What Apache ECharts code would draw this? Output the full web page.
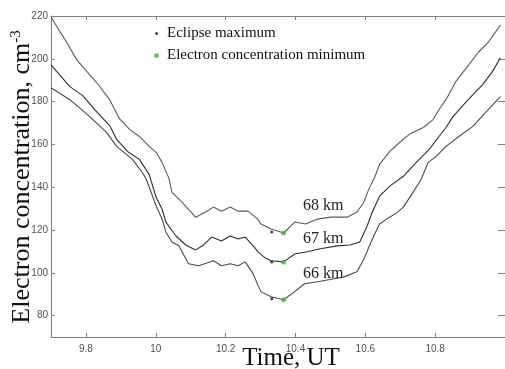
<!DOCTYPE html>
<html><head><meta charset="utf-8">
<script src="https://cdn.jsdelivr.net/npm/echarts@6/dist/echarts.min.js"></script>
<style>html,body{margin:0;padding:0;background:#fff;}#c{width:505px;height:369px;}</style>
</head><body><div id="c"></div>
<script>
const xTicks = [9.8, 10, 10.2, 10.4, 10.6, 10.8];
const yTicks = [80, 100, 120, 140, 160, 180, 200, 220];
const seriesNames = ['68 km', '67 km', '66 km'];
const legendNames = ['Eclipse maximum', 'Electron concentration minimum'];

const curve68 = [[9.700,219.5],[9.726,212.6],[9.746,207.4],[9.774,199.5],[9.803,194.0],[9.831,188.8],[9.868,180.9],[9.896,172.0],[9.925,167.0],[9.953,163.7],[9.981,159.1],[10.001,156.3],[10.018,151.6],[10.038,144.0],[10.046,137.7],[10.075,133.0],[10.114,126.0],[10.143,128.4],[10.165,130.7],[10.188,128.8],[10.213,130.7],[10.236,128.8],[10.264,128.8],[10.292,125.1],[10.301,122.8],[10.330,120.5],[10.366,118.6],[10.398,123.7],[10.429,122.8],[10.463,125.1],[10.500,126.0],[10.548,126.0],[10.576,128.4],[10.596,133.0],[10.610,139.1],[10.627,144.7],[10.641,150.7],[10.670,156.7],[10.698,160.9],[10.726,164.7],[10.766,167.9],[10.794,171.6],[10.811,176.3],[10.831,180.9],[10.859,189.3],[10.896,197.2],[10.925,203.3],[10.953,207.9],[10.987,215.8]];

const curve67 = [[9.700,197.2],[9.754,187.0],[9.791,182.8],[9.825,176.3],[9.868,168.8],[9.888,162.3],[9.919,156.7],[9.953,153.0],[9.981,146.0],[10.001,135.3],[10.018,129.8],[10.029,123.7],[10.058,117.2],[10.086,113.0],[10.114,110.7],[10.137,113.0],[10.160,116.7],[10.188,114.9],[10.213,117.2],[10.236,115.8],[10.256,116.7],[10.279,112.6],[10.293,109.8],[10.313,107.0],[10.330,105.6],[10.366,105.1],[10.398,108.8],[10.434,109.8],[10.471,111.2],[10.519,112.6],[10.556,113.0],[10.584,114.4],[10.604,121.4],[10.621,128.8],[10.641,135.8],[10.670,140.5],[10.709,145.1],[10.746,151.6],[10.783,157.7],[10.811,163.7],[10.831,167.9],[10.851,173.0],[10.879,178.1],[10.908,183.3],[10.936,187.9],[10.964,194.0],[10.987,200.5]];

const curve66 = [[9.700,186.5],[9.754,180.9],[9.811,173.0],[9.859,165.6],[9.888,159.1],[9.933,153.0],[9.961,147.0],[9.973,143.7],[10.001,131.2],[10.018,125.1],[10.029,119.1],[10.046,114.4],[10.066,112.6],[10.094,104.2],[10.123,103.3],[10.165,105.6],[10.188,103.3],[10.213,104.2],[10.236,103.3],[10.256,105.1],[10.279,99.5],[10.293,94.0],[10.301,91.2],[10.330,88.8],[10.366,87.4],[10.398,91.2],[10.426,94.9],[10.463,95.8],[10.511,97.2],[10.539,98.1],[10.576,100.5],[10.596,106.5],[10.624,117.2],[10.641,122.8],[10.661,125.1],[10.689,127.9],[10.709,130.7],[10.737,137.7],[10.760,143.7],[10.780,151.6],[10.803,154.4],[10.831,159.1],[10.868,163.7],[10.908,168.4],[10.944,174.9],[10.987,182.3]];

const eclipseMax = [[10.332,119.1],[10.332,105.1],[10.332,87.9]];
const concMin = [[10.366,118.6],[10.366,105.1],[10.366,87.4]];

const serif = 'Liberation Serif';
const sans = 'Liberation Sans';
const axisCol = '#808080';

const chart = echarts.init(document.getElementById('c'), null, {renderer: 'canvas'});
const lineSeries = (name, data, color) => ({
  name, type: 'line', data, showSymbol: false, symbol: 'none', smooth: false,
  lineStyle: {color, width: 1.1}, z: 2, silent: true
});
chart.setOption({
  animation: false,
  backgroundColor: '#fff',
  grid: {left: 51, right: -5, top: 16, bottom: 32},
  legend: [{
    data: [legendNames[0]], orient: 'vertical', left: 155, top: 26, padding: 0,
    itemWidth: 3, itemHeight: 3, icon: 'circle',
    textStyle: {fontFamily: serif, fontSize: 15, color: '#111', padding: [0, 0, 0, 4]}
  }, {
    data: [legendNames[1]], orient: 'vertical', left: 154, top: 48, padding: 0,
    itemWidth: 5, itemHeight: 5, icon: 'circle',
    textStyle: {fontFamily: serif, fontSize: 15, color: '#111', padding: [0, 0, 0, 3]}
  }],
  xAxis: [{
    type: 'value', min: 9.7, max: 11, position: 'bottom',
    axisLine: {show: true, lineStyle: {color: axisCol, width: 1}},
    axisTick: {show: true, inside: true, length: 4, customValues: xTicks, lineStyle: {color: axisCol}},
    axisLabel: {customValues: xTicks, fontFamily: sans, fontSize: 10, color: '#505050', margin: 7},
    splitLine: {show: false}
  }, {
    type: 'value', min: 9.7, max: 11, position: 'top',
    axisLine: {show: true, lineStyle: {color: axisCol, width: 1}},
    axisTick: {show: true, inside: true, length: 4, customValues: xTicks, lineStyle: {color: axisCol}},
    axisLabel: {show: false}, splitLine: {show: false}
  }],
  yAxis: [{
    type: 'value', min: 70, max: 220, position: 'left',
    axisLine: {show: true, lineStyle: {color: axisCol, width: 1}},
    axisTick: {show: true, inside: true, length: 4, customValues: yTicks, lineStyle: {color: axisCol}},
    axisLabel: {customValues: yTicks, fontFamily: sans, fontSize: 10, color: '#505050', margin: 3},
    splitLine: {show: false}
  }, {
    type: 'value', min: 70, max: 220, position: 'right',
    axisLine: {show: true, lineStyle: {color: axisCol, width: 1}},
    axisTick: {show: true, inside: true, length: 7, customValues: yTicks, lineStyle: {color: axisCol}},
    axisLabel: {show: false}, splitLine: {show: false}
  }],
  series: [
    lineSeries(seriesNames[0], curve68, '#5a5a5a'),
    lineSeries(seriesNames[1], curve67, '#2e2e2e'),
    lineSeries(seriesNames[2], curve66, '#484848'),
    {name: legendNames[0], type: 'scatter', data: eclipseMax, symbol: 'circle', symbolSize: 3,
     itemStyle: {color: '#111'}, z: 3},
    {name: legendNames[1], type: 'scatter', data: concMin, symbol: 'circle', symbolSize: 5,
     itemStyle: {color: '#3dbb48'}, z: 4}
  ],
  graphic: [
    {type: 'text', left: 303, top: 198, style: {text: seriesNames[0], font: '16px "Liberation Serif"', fill: '#222'}},
    {type: 'text', left: 303, top: 231, style: {text: seriesNames[1], font: '16px "Liberation Serif"', fill: '#222'}},
    {type: 'text', left: 303, top: 266, style: {text: seriesNames[2], font: '16px "Liberation Serif"', fill: '#222'}},
    {type: 'text', x: 291, y: 358, style: {text: 'Time, UT', font: '25px "Liberation Serif"', fill: '#111', align: 'center', verticalAlign: 'middle'}},
    {type: 'text', x: 22, y: 177, rotation: Math.PI / 2,
     style: {text: 'Electron concentration, cm{sup|-3}', font: '26px "Liberation Serif"', fill: '#111',
             align: 'center', verticalAlign: 'middle',
             rich: {sup: {fontSize: 15, fontFamily: serif, verticalAlign: 'top', fill: '#111'}}}}
  ]
});
</script>
</body></html>
